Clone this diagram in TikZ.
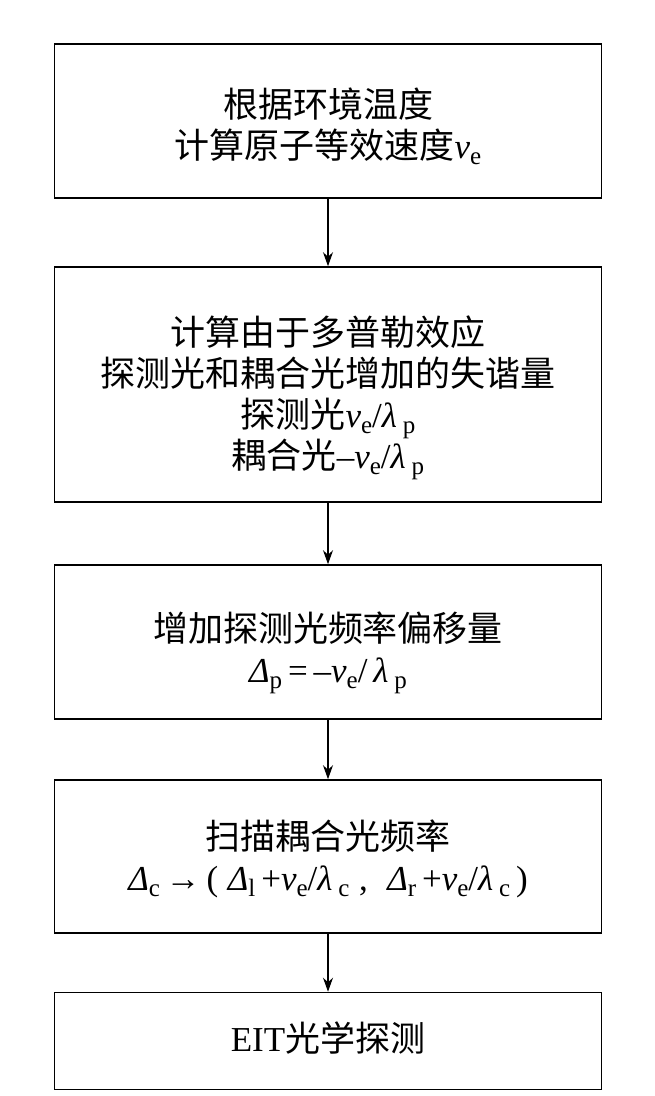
\documentclass[tikz,border=0pt]{standalone}
\usepackage{fontspec}
\setmainfont{Liberation Serif}
\newfontfamily\cjk{Noto Sans CJK SC}
\usetikzlibrary{arrows.meta}
\newcommand{\lsub}[1]{\raisebox{-0.35ex}{\fontsize{25}{25}\selectfont #1}}
\newcommand{\vel}{\textit{v}\lsub{e}}
\newcommand{\lam}[1]{\textit{λ}\,\lsub{#1}}
\newcommand{\Dl}[1]{\textit{Δ}\lsub{#1}}
\tikzset{
  stepbox/.style={draw=black, line width=1.6pt, minimum width=547pt, inner sep=0pt},
  txt/.style={align=center, inner sep=0pt, font=\fontsize{35}{41}\selectfont},
  flow/.style={line width=1.3pt, -{Stealth[length=14pt,width=10pt]}}
}
\begin{document}
\begin{tikzpicture}[x=1pt,y=-1pt]
\useasboundingbox[fill=white] (0,0) rectangle (655,1096);
\node[stepbox, minimum height=154pt] (b1) at (328,121) {};
\node[stepbox, minimum height=235pt] (b2) at (328,384.5) {};
\node[stepbox, minimum height=154pt] (b3) at (328,642) {};
\node[stepbox, minimum height=153pt] (b4) at (328,856.5) {};
\node[stepbox, minimum height=97pt] (b5) at (328,1041) {};
\node[txt] (t1) at (328,126)
  {{\cjk 根据环境温度}\\{\cjk 计算原子等效速度}\vel};
\node[txt] (t2) at (328,398)
  {{\cjk 计算由于多普勒效应}\\{\cjk 探测光和耦合光增加的失谐量}\\{\cjk 探测光}\vel/\lam{p}\\{\cjk 耦合光}–\vel/\lam{p}};
\node[txt] (t3) at (328,653)
  {{\cjk 增加探测光频率偏移量}\\\Dl{p}\,=\,–\vel/\,\lam{p}};
\node[txt] (t4) at (328,859)
  {{\cjk 扫描耦合光频率}\\\Dl{c}\,→\,(\;\Dl{l}\,+\vel/\lam{c}\;,\;\;\Dl{r}\,+\vel/\lam{c}\,)};
\node[txt] (t5) at (328,1038)
  {EIT{\cjk 光学探测}};
\draw[flow] (b1) -- (b2);
\draw[flow] (b2) -- (b3);
\draw[flow] (b3) -- (b4);
\draw[flow] (b4) -- (b5);
\end{tikzpicture}
\end{document}
